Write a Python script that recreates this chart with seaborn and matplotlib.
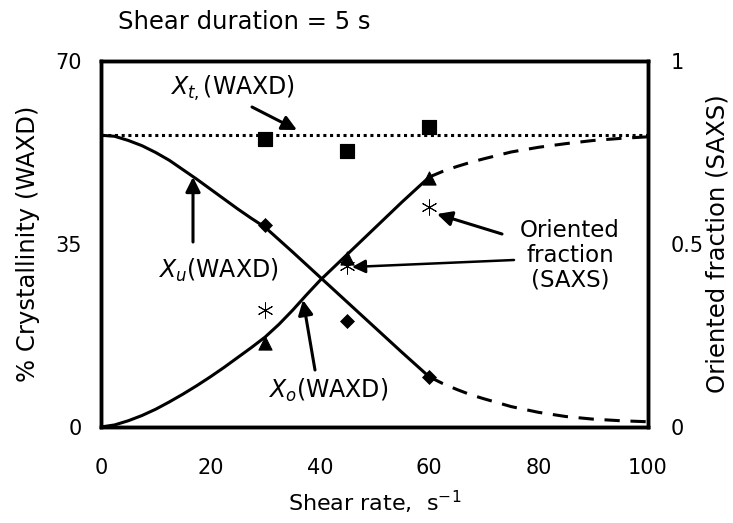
import numpy as np
import pandas as pd
import matplotlib
matplotlib.use("Agg")
import matplotlib.pyplot as plt
import seaborn as sns

sns.set_theme(style="white", rc={
    'text.color': 'black', 'axes.labelcolor': 'black',
    'xtick.color': 'black', 'ytick.color': 'black', 'axes.edgecolor': 'black',
})
plt.rcParams['font.family'] = ['DejaVu Sans']
plt.rcParams['mathtext.fontset'] = 'dejavusans'

# Measured points
shear_rate = [30, 45, 60]
xt_waxd = [55.1, 52.8, 57.4]      # total crystallinity (squares)
xu_waxd = [38.6, 20.3, 9.6]       # unoriented (diamonds)
xo_waxd = [16.1, 32.3, 47.6]      # oriented (triangles)
saxs_frac = [0.32, 0.44, 0.60]    # oriented fraction, SAXS (right axis)

xt_level = 55.8

# Trend curves (solid: fitted range, dashed: extrapolated)
xu_fit_x = [0, 2.5, 5, 7.5, 10, 12.5, 15, 17.5, 20, 22.5, 25, 27.5, 30, 35, 40, 45, 50, 55, 60]
xu_fit_y = [55.8, 55.6, 54.8, 53.8, 52.5, 51.0, 49.2, 47.4, 45.5, 43.6, 41.7, 39.9, 38.2,
            33.5, 28.7, 23.9, 19.1, 14.3, 9.6]
xu_ext_x = [60, 62.5, 65, 67.5, 70, 75, 80, 85, 90, 95, 100]
xu_ext_y = [9.6, 8.3, 7.2, 6.2, 5.4, 3.9, 2.8, 2.0, 1.5, 1.2, 1.0]

xo_fit_x = [0, 2.5, 5, 7.5, 10, 12.5, 15, 17.5, 20, 22.5, 25, 27.5, 30, 32.5, 35, 37.5,
            40, 45, 50, 55, 60]
xo_fit_y = [0.0, 0.4, 1.2, 2.2, 3.4, 4.8, 6.3, 7.9, 9.6, 11.4, 13.3, 15.2, 17.2, 19.6,
            22.3, 25.2, 28.0, 33.0, 38.0, 43.0, 47.8]
xo_ext_x = [60, 62.5, 65, 67.5, 70, 75, 80, 85, 90, 95, 100]
xo_ext_y = [47.8, 48.9, 49.8, 50.6, 51.3, 52.6, 53.5, 54.2, 54.8, 55.2, 55.5]

fig = plt.figure(figsize=(7.33, 5.23), dpi=100)
ax = fig.add_axes([101/733, 1-427/523, 547/733, 366/523])

lw = 2.2
sns.lineplot(x=[0, 100], y=[xt_level, xt_level], ax=ax, color='black', lw=2.2,
             linestyle=(0, (1, 1.2)))
sns.lineplot(x=xu_fit_x, y=xu_fit_y, ax=ax, color='black', lw=lw)
sns.lineplot(x=xu_ext_x, y=xu_ext_y, ax=ax, color='black', lw=lw, linestyle=(0, (5, 3.5)))
sns.lineplot(x=xo_fit_x, y=xo_fit_y, ax=ax, color='black', lw=lw)
sns.lineplot(x=xo_ext_x, y=xo_ext_y, ax=ax, color='black', lw=lw, linestyle=(0, (5, 3.5)))

sns.scatterplot(x=shear_rate, y=xt_waxd, ax=ax, marker='s', s=110, color='black',
                edgecolor='black', zorder=5)
sns.scatterplot(x=shear_rate, y=xu_waxd, ax=ax, marker='D', s=50, color='black',
                edgecolor='black', zorder=5)
sns.scatterplot(x=shear_rate, y=xo_waxd, ax=ax, marker='^', s=90, color='black',
                edgecolor='black', zorder=5)

ax.set_xlim(0, 100)
ax.set_ylim(0, 70)
ax.set_xticks([0, 20, 40, 60, 80, 100])
ax.set_yticks([0, 35, 70])
ax.tick_params(axis='x', length=0, pad=22, labelsize=15)
ax.tick_params(axis='y', length=0, pad=14, labelsize=15)
ax.set_xticks([20, 40, 60], minor=True)
ax.set_yticks([35], minor=True)
ax.tick_params(which='minor', direction='in', length=6, width=1, bottom=True, left=True)
ax.set_xlabel('Shear rate,  s$^{-1}$', fontsize=16, labelpad=8)
ax.set_ylabel('% Crystallinity (WAXD)', fontsize=17.5)
ax.yaxis.set_label_coords((40 - 101) / 547, 0.5)
for s in ax.spines.values():
    s.set_linewidth(2.5)
    s.set_color('black')

ax2 = ax.twinx()
sns.scatterplot(x=shear_rate, y=saxs_frac, ax=ax2, marker=(6, 2, 0), s=120,
                color='black', linewidth=0.7, zorder=5)
ax2.set_ylim(0, 1)
ax2.set_yticks([0, 0.5, 1])
ax2.set_yticklabels(['0', '0.5', '1'])
ax2.tick_params(axis='y', length=0, pad=16, labelsize=15)
ax2.set_yticks([0.5], minor=True)
ax2.tick_params(which='minor', direction='in', length=6, width=1, right=True)
ax2.set_ylabel('Oriented fraction (SAXS)', fontsize=17.5, rotation=90)
ax2.yaxis.set_label_coords((706 - 101) / 547, 0.5)
ax2.grid(False)
ax.grid(False)
for s in ax2.spines.values():
    s.set_linewidth(2.5)
    s.set_color('black')

fig.text(118/733, 1-22/523, 'Shear duration = 5 s', fontsize=17.5, va='center', ha='left')

# Annotations
def px(xp, yp):
    return (xp/733, 1-yp/523)

arrow = dict(arrowstyle='-|>', color='black', lw=2.2, mutation_scale=22, shrinkA=0, shrinkB=0)
line = dict(arrowstyle='-|>', color='black', lw=1.8, mutation_scale=20, shrinkA=0, shrinkB=0)

ax.annotate('', xy=px(297, 130), xytext=px(252, 107), xycoords='figure fraction',
            textcoords='figure fraction', arrowprops=arrow)
fig.text(233/733, 1-88/523, r'$\it{X_{t,}}$(WAXD)', fontsize=17, ha='center', va='center')

ax.annotate('', xy=px(193, 177), xytext=px(193, 242), xycoords='figure fraction',
            textcoords='figure fraction', arrowprops=arrow)
fig.text(218/733, 1-270/523, r'$\it{X_u}$(WAXD)', fontsize=17, ha='center', va='center')

ax.annotate('', xy=px(303, 300), xytext=px(315, 370), xycoords='figure fraction',
            textcoords='figure fraction', arrowprops=arrow)
fig.text(328/733, 1-390/523, r'$\it{X_o}$(WAXD)', fontsize=17, ha='center', va='center')

ax.annotate('', xy=px(437, 214), xytext=px(502, 234), xycoords='figure fraction',
            textcoords='figure fraction', arrowprops=arrow)
ax.annotate('', xy=px(352, 267), xytext=px(514, 260), xycoords='figure fraction',
            textcoords='figure fraction', arrowprops=line)
fig.text(570/733, 1-255/523, 'Oriented\nfraction\n(SAXS)', fontsize=16.5, ha='center',
         va='center', linespacing=1.1)

fig.savefig('out.png', dpi=100)
